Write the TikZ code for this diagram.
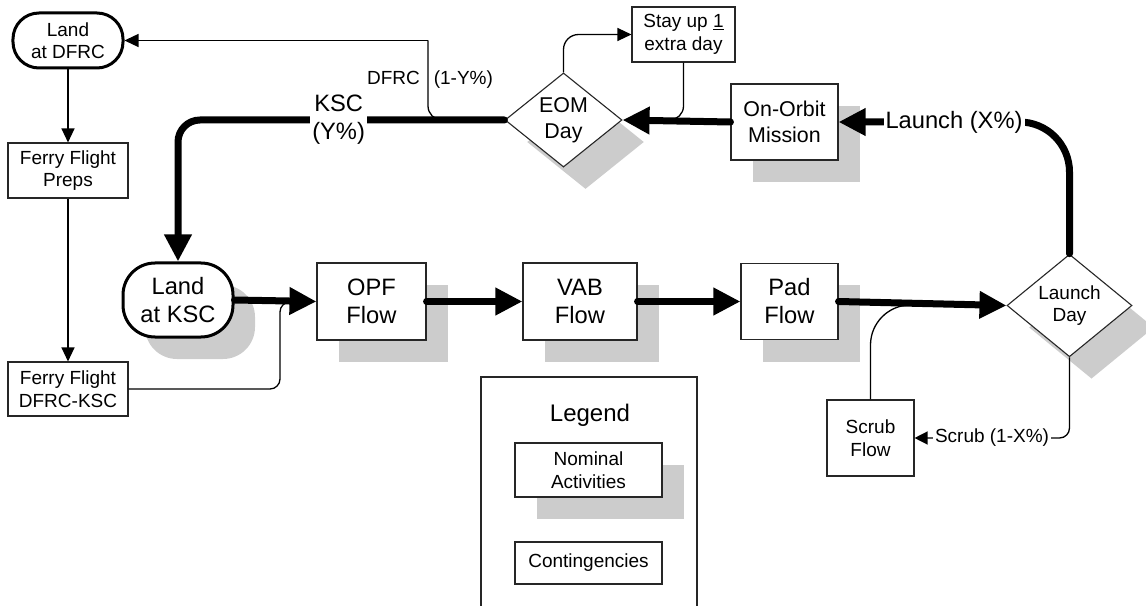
\documentclass[tikz,border=0pt]{standalone}
\usepackage{fontspec}
\setmainfont{Liberation Sans}
\usetikzlibrary{arrows.meta,shapes.geometric,shadows}
\newcommand\ftS{\fontsize{19bp}{22.5bp}\selectfont}
\newcommand\ftM{\fontsize{21.4bp}{26bp}\selectfont}
\newcommand\ftB{\fontsize{23.7bp}{28bp}\selectfont}
\begin{document}
\begin{tikzpicture}[x=1bp,y=-1bp,
  shad/.style={drop shadow={shadow xshift=22bp,shadow yshift=-22bp,fill=black!20,opacity=1}},
  boxn/.style={draw=black!85,line width=1.1bp,fill=white,align=center,inner sep=0pt},
  landn/.style={draw=black,line width=3bp,fill=white,align=center,inner sep=0pt},
  dia/.style={diamond,draw=black!85,line width=1.1bp,fill=white,align=center,inner sep=0pt},
  thick/.style={line width=7bp,line cap=round,-{Triangle[length=27bp,width=26bp]}},
  thin/.style={line width=1.3bp,-{Triangle[length=14bp,width=13bp]}},
  thinplain/.style={line width=1.3bp},
  lbl/.style={fill=white,inner sep=2bp,align=center}]
\useasboundingbox (0,0) rectangle (1146,606);

% nodes
\node[landn,font=\ftS,rounded corners=26bp,minimum width=110bp,minimum height=55bp] (dfrc) at (68,40.5) {Land\\at DFRC};
\node[boxn,font=\ftS,minimum width=120bp,minimum height=55bp] (preps) at (68,170.5) {Ferry Flight\\Preps};
\node[boxn,font=\ftS,minimum width=120bp,minimum height=54bp] (ferry) at (68,389) {Ferry Flight\\DFRC-KSC};
\node[landn,font=\ftB,shad,rounded corners=32bp,minimum width=110bp,minimum height=74bp] (ksc) at (178,300) {Land\\at KSC};
\node[boxn,font=\ftB,shad,minimum width=109bp,minimum height=77bp] (opf) at (371.5,301.5) {OPF\\Flow};
\node[boxn,font=\ftB,shad,minimum width=114bp,minimum height=77bp] (vab) at (580,301.5) {VAB\\Flow};
\node[boxn,font=\ftB,shad,minimum width=97bp,minimum height=76bp] (pad) at (789.5,301.5) {Pad\\Flow};
\node[dia,font=\ftS,shad,minimum width=125bp,minimum height=89bp] (launch) at (1069.5,305.5) {Launch\\Day};
\node[boxn,font=\ftS,minimum width=87bp,minimum height=76bp] (scrub) at (870.5,438) {Scrub\\Flow};
\node[boxn,font=\ftM,shad,minimum width=107bp,minimum height=76bp] (orbit) at (784.5,122) {On-Orbit\\Mission};
\node[dia,font=\ftM,shad,minimum width=117bp,minimum height=92bp] (eom) at (563.5,120) {EOM\\Day};
\node[boxn,font=\ftS,minimum width=103bp,minimum height=55bp] (stay) at (683.5,34.5) {Stay up \underline{1}\\extra day};

% legend
\draw[draw=black!85,line width=1.1bp] (481,606) -- (481,377) -- (697,377) -- (697,606);
\node[font=\fontsize{24bp}{28bp}\selectfont] (legend) at (590,415) {Legend};
\node[boxn,font=\ftS,shad,minimum width=147bp,minimum height=54bp] (nominal) at (588.5,470) {Nominal\\Activities};
\node[boxn,font=\ftS,minimum width=147bp,minimum height=42bp] (conting) at (588.5,563) {Contingencies};

% helper coordinates
\coordinate (dsplit) at (448,120);
\coordinate (dcorner) at (428,40.5);
\coordinate (smerge) at (664,120);
\coordinate (fcorner) at (280,302);
\coordinate (fmerge) at (296,302);
\coordinate (scmerge) at (935,305);

% thin connectors (under thick)
\draw[thinplain,rounded corners=14bp] (dsplit) -| (dcorner);
\draw[thin] (dcorner) -- (dfrc.east);
\node[font=\ftS] (dlabel) at (430,80) {DFRC\hspace{14bp}(1-Y\%)};
\draw[thin,rounded corners=15bp] (eom.north) |- (stay.west);
\draw[thinplain,rounded corners=14bp] (stay.south) |- (smerge);
\draw[thin] (dfrc.south) -- (preps.north);
\draw[thin] (preps.south) -- (ferry.north);
\draw[thinplain,rounded corners=10bp] (ferry.east) -| (fcorner) -- (fmerge);
\draw[thinplain,rounded corners=40bp] (scrub.north) |- (scmerge);
\draw[line width=1.3bp,rounded corners=10bp,-{Triangle[length=13bp,width=13bp]}] (launch.south) |- (scrub.east);
\path (launch.south) |- (scrub.east) node[lbl,font=\ftS,pos=0.75] (scrublbl) {Scrub (1-X\%)};

% thick connectors
\draw[thick] (ksc.east) -- (opf.west);
\draw[thick] (opf.east) -- (vab.west);
\draw[thick] (vab.east) -- (pad.west);
\draw[thick] (pad.east) -- (launch.west);
\draw[thick,rounded corners=50bp] (launch.north) |- (orbit.east);
\path (launch.north) |- (orbit.east) node[lbl,font=\ftB,pos=0.75] (launchlbl) {Launch (X\%)};
\draw[thick] (orbit.west) -- (eom.east);
\draw[thick,rounded corners=22bp] (eom.west) -| (ksc.north);
\path (eom.west) -| (ksc.north) node[lbl,font=\ftB,pos=0.254] (ksclbl) {KSC\\(Y\%)};
\end{tikzpicture}
\end{document}
